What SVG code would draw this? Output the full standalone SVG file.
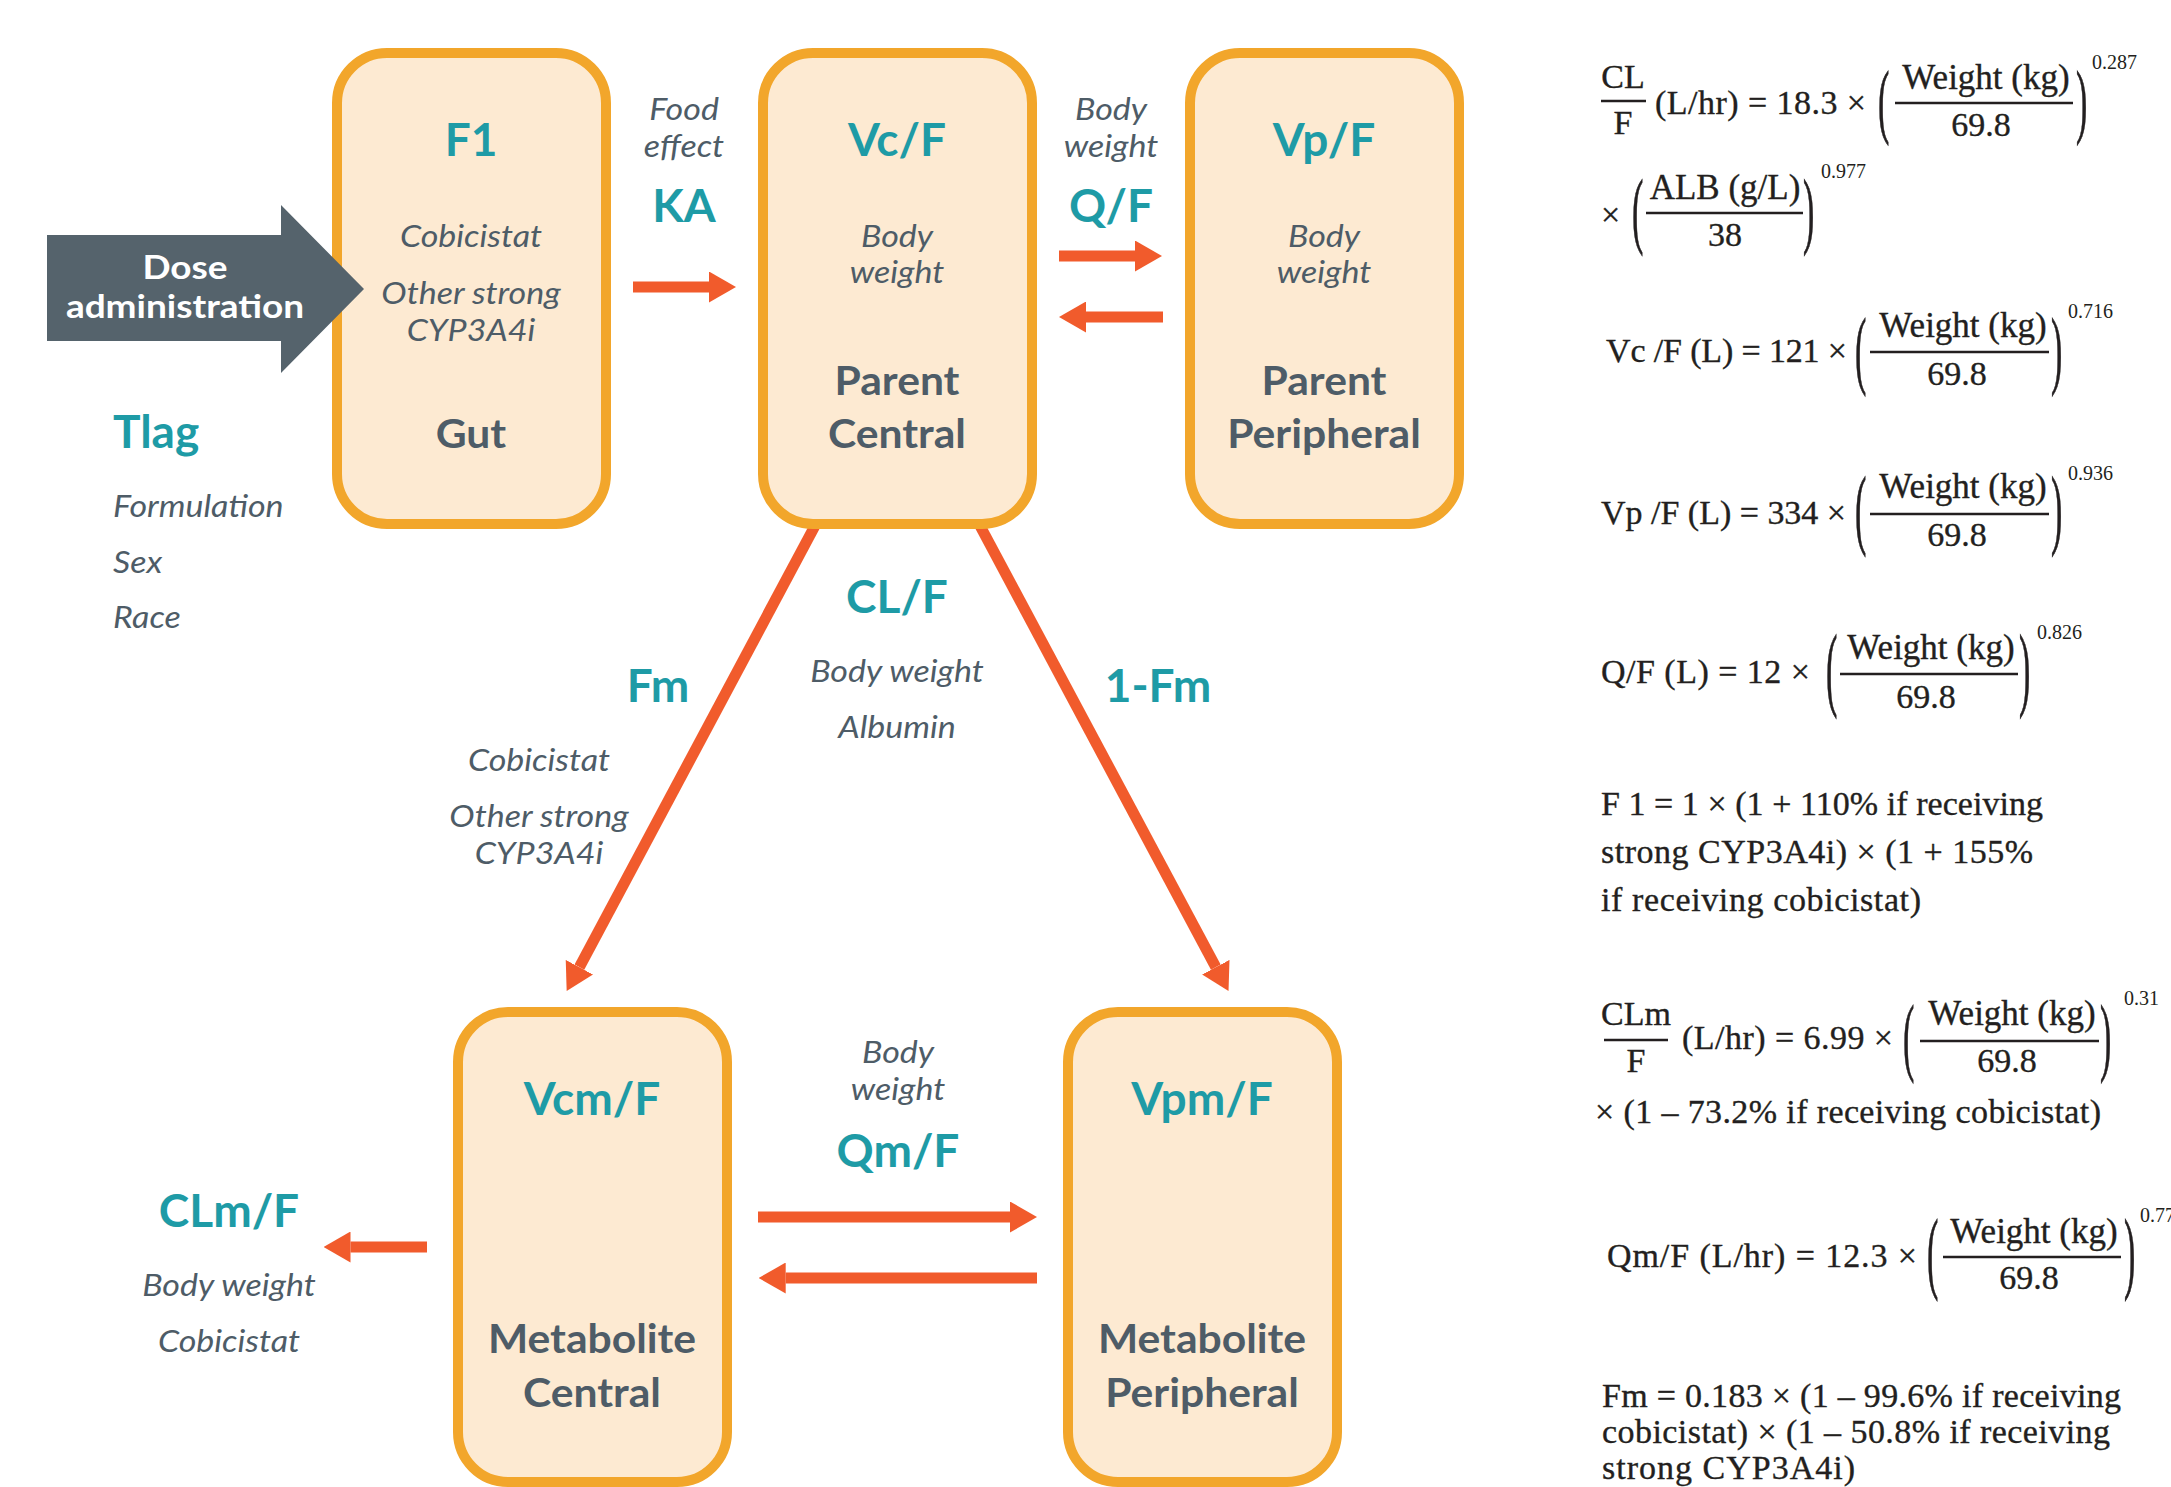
<svg xmlns="http://www.w3.org/2000/svg" width="2171" height="1487" viewBox="0 0 2171 1487">
<style>
.box{fill:#FDEAD2;stroke:#F2A62B;stroke-width:10}
.ttl{font-family:Lato,"Open Sans",sans-serif;font-weight:700;font-size:46px;fill:#1E9BA6;text-anchor:middle}
.lbl{font-family:Lato,"Open Sans",sans-serif;font-weight:700;font-size:40px;fill:#4E5C67;text-anchor:middle}
.cov{font-family:Lato,"Open Sans",sans-serif;font-style:italic;font-size:30px;fill:#4E5C67;text-anchor:middle}
.st{text-anchor:start}
.dose{font-family:Lato,"Open Sans",sans-serif;font-weight:700;font-size:32.5px;fill:#FFFFFF;text-anchor:middle}
.arr{stroke:#F15B2C;stroke-width:11;fill:none}
.eq{font-family:"Liberation Serif","Times New Roman",serif;font-size:34px;fill:#231F20;stroke:#231F20;stroke-width:0.35}
.w{font-size:35px}
.c{text-anchor:middle}
.sup{font-family:"Liberation Serif","Times New Roman",serif;font-size:20px;fill:#231F20}
.bar{stroke:#231F20;stroke-width:2.4}
</style>
<defs>
<marker id="ah" viewBox="0 0 27 31" refX="0" refY="15.5" markerWidth="27" markerHeight="31" markerUnits="userSpaceOnUse" orient="auto">
<path d="M0,0 L27,15.5 L0,31 z" fill="#F15B2C"/>
</marker>
</defs>
<rect width="2171" height="1487" fill="#FFFFFF"/>

<g id="connectors">
<line class="arr" x1="633" y1="287" x2="709" y2="287" marker-end="url(#ah)"/>
<line class="arr" x1="1059" y1="256" x2="1135" y2="256" marker-end="url(#ah)"/>
<line class="arr" x1="1163" y1="317" x2="1086" y2="317" marker-end="url(#ah)"/>
<line class="arr" x1="817" y1="522" x2="579.4" y2="967.2" marker-end="url(#ah)"/>
<line class="arr" x1="978" y1="522" x2="1215.8" y2="967.2" marker-end="url(#ah)"/>
<line class="arr" x1="427" y1="1247" x2="350.5" y2="1247" marker-end="url(#ah)"/>
<line class="arr" x1="758" y1="1217" x2="1010" y2="1217" marker-end="url(#ah)"/>
<line class="arr" x1="1037" y1="1278" x2="785.7" y2="1278" marker-end="url(#ah)"/>
</g>

<g id="gut">
<rect class="box" x="337" y="53" width="269" height="471" rx="50"/>
<text class="ttl" x="471" y="156">F1</text>
<text class="cov" transform="translate(471,247) scale(1.133,1)">Cobicistat</text>
<text class="cov" transform="translate(471,304) scale(1.133,1)">Other strong</text>
<text class="cov" transform="translate(471,341) scale(1.133,1)">CYP3A4i</text>
<text class="lbl" transform="translate(471,448) scale(1.065,1)">Gut</text>
</g>

<g id="parent-central">
<rect class="box" x="763" y="53" width="269" height="471" rx="50"/>
<text class="ttl" x="897" y="156">Vc/F</text>
<text class="cov" transform="translate(897,247) scale(1.133,1)">Body</text>
<text class="cov" transform="translate(897,283) scale(1.133,1)">weight</text>
<text class="lbl" transform="translate(897,395) scale(1.065,1)">Parent</text>
<text class="lbl" transform="translate(897,448) scale(1.065,1)">Central</text>
</g>

<g id="parent-peripheral">
<rect class="box" x="1190" y="53" width="269" height="471" rx="50"/>
<text class="ttl" x="1324" y="156">Vp/F</text>
<text class="cov" transform="translate(1324,247) scale(1.133,1)">Body</text>
<text class="cov" transform="translate(1324,283) scale(1.133,1)">weight</text>
<text class="lbl" transform="translate(1324,395) scale(1.065,1)">Parent</text>
<text class="lbl" transform="translate(1324,448) scale(1.065,1)">Peripheral</text>
</g>

<g id="metabolite-central">
<rect class="box" x="458" y="1012" width="269" height="470" rx="50"/>
<text class="ttl" x="592" y="1115">Vcm/F</text>
<text class="lbl" transform="translate(592,1353) scale(1.065,1)">Metabolite</text>
<text class="lbl" transform="translate(592,1407) scale(1.065,1)">Central</text>
</g>

<g id="metabolite-peripheral">
<rect class="box" x="1068" y="1012" width="269" height="470" rx="50"/>
<text class="ttl" x="1202" y="1115">Vpm/F</text>
<text class="lbl" transform="translate(1202,1353) scale(1.065,1)">Metabolite</text>
<text class="lbl" transform="translate(1202,1407) scale(1.065,1)">Peripheral</text>
</g>

<g id="dose-administration">
<polygon points="47,235 281,235 281,205 364,289 281,373 281,341 47,341" fill="#55636C"/>
<text class="dose" transform="translate(185,279) scale(1.138,1)">Dose</text>
<text class="dose" transform="translate(185,318) scale(1.138,1)">administration</text>
</g>

<g id="tlag">
<text class="ttl st" x="113" y="448">Tlag</text>
<text class="cov st" transform="translate(113,517) scale(1.133,1)">Formulation</text>
<text class="cov st" transform="translate(113,573) scale(1.133,1)">Sex</text>
<text class="cov st" transform="translate(113,628) scale(1.133,1)">Race</text>
</g>

<g id="ka">
<text class="cov" transform="translate(684,120) scale(1.133,1)">Food</text>
<text class="cov" transform="translate(684,157) scale(1.133,1)">effect</text>
<text class="ttl" x="684" y="222">KA</text>
</g>

<g id="qf">
<text class="cov" transform="translate(1111,120) scale(1.133,1)">Body</text>
<text class="cov" transform="translate(1111,157) scale(1.133,1)">weight</text>
<text class="ttl" x="1111" y="222">Q/F</text>
</g>

<g id="clf">
<text class="ttl" x="897" y="613">CL/F</text>
<text class="cov" transform="translate(897,682) scale(1.133,1)">Body weight</text>
<text class="cov" transform="translate(897,738) scale(1.133,1)">Albumin</text>
</g>

<g id="fm">
<text class="ttl" x="658" y="702">Fm</text>
<text class="cov" transform="translate(539,771) scale(1.133,1)">Cobicistat</text>
<text class="cov" transform="translate(539,827) scale(1.133,1)">Other strong</text>
<text class="cov" transform="translate(539,864) scale(1.133,1)">CYP3A4i</text>
</g>

<g id="one-minus-fm">
<text class="ttl" x="1158" y="702">1-Fm</text>
</g>

<g id="clmf">
<text class="ttl" x="229" y="1227">CLm/F</text>
<text class="cov" transform="translate(229,1296) scale(1.133,1)">Body weight</text>
<text class="cov" transform="translate(229,1352) scale(1.133,1)">Cobicistat</text>
</g>

<g id="qmf">
<text class="cov" transform="translate(898,1063) scale(1.133,1)">Body</text>
<text class="cov" transform="translate(898,1100) scale(1.133,1)">weight</text>
<text class="ttl" x="898" y="1167">Qm/F</text>
</g>

<g id="equations">
<!-- CL/F -->
<text class="eq c" x="1623" y="88">CL</text>
<line class="bar" x1="1601" y1="101" x2="1646" y2="101"/>
<text class="eq c" x="1623" y="134">F</text>
<text class="eq" x="1655" y="114" textLength="211" lengthAdjust="spacing">(L/hr) = 18.3 ×</text>
<text class="eq" transform="translate(1878,127.8) scale(1,2.44)">(</text>
<text class="eq c w" x="1986" y="89">Weight (kg)</text>
<line class="bar" x1="1895" y1="103" x2="2073" y2="103"/>
<text class="eq c" x="1981" y="136">69.8</text>
<text class="eq" transform="translate(2076,127.8) scale(1,2.44)">)</text>
<text class="sup" x="2092" y="69">0.287</text>
<text class="eq" x="1601" y="226">×</text>
<text class="eq" transform="translate(1632,238.3) scale(1,2.51)">(</text>
<text class="eq c w" x="1725" y="199">ALB (g/L)</text>
<line class="bar" x1="1646" y1="213" x2="1803" y2="213"/>
<text class="eq c" x="1725" y="246">38</text>
<text class="eq" transform="translate(1803,238.3) scale(1,2.51)">)</text>
<text class="sup" x="1821" y="178">0.977</text>
<!-- Vc/F -->
<text class="eq" x="1606" y="362" textLength="241" lengthAdjust="spacing">Vc /F (L) = 121 ×</text>
<text class="eq" transform="translate(1855,377.5) scale(1,2.57)">(</text>
<text class="eq c w" x="1963" y="337">Weight (kg)</text>
<line class="bar" x1="1870" y1="352" x2="2049" y2="352"/>
<text class="eq c" x="1957" y="385">69.8</text>
<text class="eq" transform="translate(2051,377.5) scale(1,2.57)">)</text>
<text class="sup" x="2068" y="318">0.716</text>
<!-- Vp/F -->
<text class="eq" x="1601" y="524" textLength="245" lengthAdjust="spacing">Vp /F (L) = 334 ×</text>
<text class="eq" transform="translate(1855,538.4) scale(1,2.59)">(</text>
<text class="eq c w" x="1963" y="498">Weight (kg)</text>
<line class="bar" x1="1870" y1="514" x2="2049" y2="514"/>
<text class="eq c" x="1957" y="546">69.8</text>
<text class="eq" transform="translate(2051,538.4) scale(1,2.59)">)</text>
<text class="sup" x="2068" y="480">0.936</text>
<!-- Q/F -->
<text class="eq" x="1601" y="683" textLength="209" lengthAdjust="spacing">Q/F (L) = 12 ×</text>
<text class="eq" transform="translate(1826,698.6) scale(1,2.72)">(</text>
<text class="eq c w" x="1931" y="659">Weight (kg)</text>
<line class="bar" x1="1840" y1="674" x2="2018" y2="674"/>
<text class="eq c" x="1926" y="708">69.8</text>
<text class="eq" transform="translate(2019,698.6) scale(1,2.72)">)</text>
<text class="sup" x="2037" y="639">0.826</text>
<!-- F1 -->
<text class="eq" x="1601" y="815" textLength="442" lengthAdjust="spacing">F 1 = 1 × (1 + 110% if receiving</text>
<text class="eq" x="1601" y="863" textLength="432" lengthAdjust="spacing">strong CYP3A4i) × (1 + 155%</text>
<text class="eq" x="1601" y="911" textLength="320" lengthAdjust="spacing">if receiving cobicistat)</text>
<!-- CLm/F -->
<text class="eq c" x="1636" y="1025">CLm</text>
<line class="bar" x1="1604" y1="1040" x2="1668" y2="1040"/>
<text class="eq c" x="1636" y="1072">F</text>
<text class="eq" x="1682" y="1049" textLength="211" lengthAdjust="spacing">(L/hr) = 6.99 ×</text>
<text class="eq" transform="translate(1903,1064.7) scale(1,2.53)">(</text>
<text class="eq c w" x="2012" y="1025">Weight (kg)</text>
<line class="bar" x1="1920" y1="1041" x2="2099" y2="1041"/>
<text class="eq c" x="2007" y="1072">69.8</text>
<text class="eq" transform="translate(2100,1064.7) scale(1,2.53)">)</text>
<text class="sup" x="2124" y="1005">0.31</text>
<text class="eq" x="1595" y="1123" textLength="506" lengthAdjust="spacing">× (1 – 73.2% if receiving cobicistat)</text>
<!-- Qm/F -->
<text class="eq" x="1607" y="1267" textLength="310" lengthAdjust="spacing">Qm/F (L/hr) = 12.3 ×</text>
<text class="eq" transform="translate(1927,1281.5) scale(1,2.66)">(</text>
<text class="eq c w" x="2034" y="1243">Weight (kg)</text>
<line class="bar" x1="1943" y1="1257" x2="2121" y2="1257"/>
<text class="eq c" x="2029" y="1289">69.8</text>
<text class="eq" transform="translate(2124,1281.5) scale(1,2.66)">)</text>
<text class="sup" x="2140" y="1222">0.77</text>
<!-- Fm -->
<text class="eq" x="1602" y="1407" textLength="519" lengthAdjust="spacing">Fm = 0.183 × (1 – 99.6% if receiving</text>
<text class="eq" x="1602" y="1443" textLength="508" lengthAdjust="spacing">cobicistat) × (1 – 50.8% if receiving</text>
<text class="eq" x="1602" y="1479" textLength="253" lengthAdjust="spacing">strong CYP3A4i)</text>
</g>
</svg>
